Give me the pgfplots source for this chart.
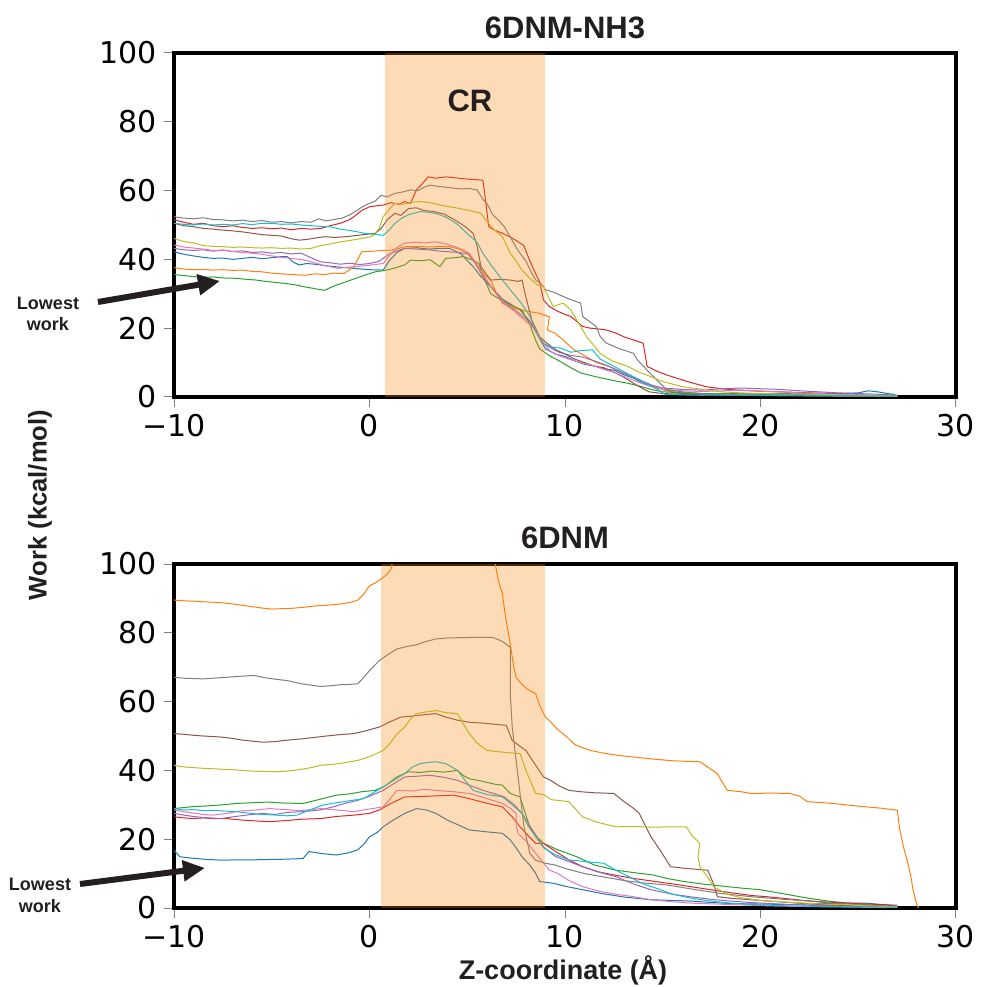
\documentclass[border=0pt]{standalone}
\usepackage{fontspec}
\setmainfont{DejaVu Sans}
\newfontfamily\lab{Liberation Sans}
\usepackage{pgfplots}
\pgfplotsset{compat=1.18}
\usetikzlibrary{arrows.meta}
\definecolor{tabblue}{HTML}{1F77B4}
\definecolor{taborange}{HTML}{FF7F0E}
\definecolor{tabgreen}{HTML}{2CA02C}
\definecolor{tabred}{HTML}{D62728}
\definecolor{tabpurple}{HTML}{9467BD}
\definecolor{tabbrown}{HTML}{8C564B}
\definecolor{tabpink}{HTML}{E377C2}
\definecolor{tabgray}{HTML}{7F7F7F}
\definecolor{tabolive}{HTML}{BCBD22}
\definecolor{tabcyan}{HTML}{17BECF}
\definecolor{spanc}{RGB}{248,135,15}
\definecolor{txt}{RGB}{35,31,32}
\pgfplotsset{myax/.style={
  scale only axis, width=391pt, height=172pt, anchor=south west,
  xmin=-10, xmax=30, ymin=0, ymax=100,
  xtick={-10,0,10,20,30}, xticklabels={−10,0,10,20,30},
  ytick={0,20,40,60,80,100}, yticklabels={0,20,40,60,80,100},
  axis line style={line width=2pt, black},
  tick style={gray, line width=0.5pt},
  tick align=outside, major tick length=5pt,
  tick pos=left,
  ticklabel style={font=\fontsize{15}{15}\selectfont},
  every axis plot/.append style={line width=0.5pt, no marks},
}}
\begin{document}
\begin{tikzpicture}[x=1pt,y=1pt]
\useasboundingbox (0,0) rectangle (490.5,493.5);
% ---------------- top panel
\begin{axis}[myax, at={(87pt,295pt)}]
\addplot[tabblue] coordinates {(-10,42.2) (-9.5,41.5) (-9,41.0) (-8.5,40.6) (-8,40.3) (-7.5,40.4) (-7,40.0) (-6.5,40.3) (-6,40.6) (-5.5,40.2) (-5,40.5) (-4.5,40.8) (-4.2,40.8) (-3.9,39.2) (-3.6,38.4) (-3.2,38.8) (-2.8,38.6) (-2.3,38.2) (-1.8,37.9) (-1.2,37.6) (-0.6,37.3) (0,37.0) (0.7,36.9) (1.0,39.5) (1.4,42.0) (1.8,43.2) (2.4,43.4) (3.0,43.0) (3.6,43.2) (4.1,43.2) (4.7,41.5) (5.3,37.9) (5.7,35.0) (6.2,32.0) (6.8,28.5) (7.7,25.3) (8.2,22.0) (8.7,17.0) (9.0,14.0) (9.5,12.5) (10.0,11.8) (10.5,10.5) (11.0,9.5) (11.5,9.0) (12.0,8.2) (12.5,7.8) (13.0,6.5) (13.5,5.5) (14.0,4.0) (14.5,3.0) (15.0,2.2) (15.5,1.4) (16.0,1.0) (17,0.8) (18,0.9) (19,1.0) (20,0.8) (21,1.0) (22,0.9) (23,1.1) (24,1.0) (25,1.2) (25.5,1.8) (26,1.5) (26.5,1.0) (26.9,0.7)};
\addplot[taborange] coordinates {(-10,37.6) (-9.5,37.2) (-9,37.0) (-8.5,37.1) (-8,36.9) (-7.5,37.0) (-7,36.8) (-6.5,36.9) (-6,36.5) (-5.5,36.4) (-5,36.0) (-4.5,35.8) (-4,35.6) (-3.3,35.4) (-2.8,35.8) (-2.3,35.6) (-1.8,36.0) (-1.3,35.9) (-0.8,37.9) (-0.4,42.2) (0.2,42.4) (0.6,42.6) (1.1,42.7) (1.5,43.2) (1.8,43.7) (2.4,43.8) (3.0,43.6) (3.6,43.7) (4.1,43.7) (4.6,43.0) (5.0,41.8) (5.5,38.5) (5.9,35.5) (6.2,34.0) (6.5,30.0) (6.8,27.2) (7.2,26.2) (7.7,25.3) (8.2,24.8) (8.7,24.3) (9.2,23.3) (9.1,19.5) (9.5,18.5) (9.9,16.6) (10.4,14.0) (11.0,12.0) (11.6,10.0) (12.2,9.0) (12.8,7.5) (13.4,6.0) (14.0,4.5) (14.6,3.0) (15.2,1.8) (16,1.2) (17,1.0) (18,0.8) (19,0.9) (20,1.0) (21,0.8) (22,0.7) (23,0.6) (24,0.5) (25,0.4) (26,0.3) (27,0.2)};
\addplot[tabgreen] coordinates {(-10,35.6) (-9.5,35.3) (-9,35.0) (-8.5,34.8) (-8,34.9) (-7.5,34.6) (-6.8,34.5) (-6.3,34.2) (-5.8,34.0) (-5.3,33.6) (-4.8,33.3) (-4.3,33.0) (-3.8,32.6) (-3.3,32.0) (-2.8,31.5) (-2.3,31.0) (-2.0,31.8) (-1.7,32.5) (-1.2,33.5) (-0.7,34.5) (-0.2,35.5) (0.3,36.4) (0.8,36.8) (1.3,37.5) (1.8,38.4) (2.1,39.8) (2.6,39.6) (3.1,39.9) (3.6,37.9) (3.9,40.3) (4.4,40.5) (4.8,40.8) (5.2,40.0) (5.6,38.8) (5.9,34.0) (6.2,30.0) (6.8,28.0) (7.3,26.5) (7.8,25.3) (8.2,21.0) (8.5,16.5) (8.7,14.0) (9.2,12.0) (9.7,10.5) (10.3,8.5) (10.8,7.0) (11.5,6.0) (12.3,5.0) (13.2,4.0) (13.8,3.2) (14.4,2.2) (15,1.5) (16,1.2) (17,1.0) (18,0.9) (19,0.8) (20,0.8) (21,0.7) (22,0.6) (23,0.5) (24,0.4) (25,0.4) (26,0.3) (27,0.2)};
\addplot[tabred] coordinates {(-10,51.5) (-9.5,50.8) (-9,50.2) (-8.5,50.5) (-8,49.8) (-7.5,49.5) (-7,49.8) (-6.5,49.3) (-6,49.0) (-5.5,49.2) (-5,48.9) (-4.5,49.1) (-4,48.6) (-3.5,49.0) (-3,48.8) (-2.5,49.0) (-2,49.8) (-1.5,50.5) (-1,51.6) (-0.8,52.4) (-0.4,54.2) (0,55.3) (0.4,55.6) (0.7,55.8) (1.1,56.5) (1.5,56.0) (1.8,56.8) (2.1,56.3) (2.4,60.2) (2.7,62.0) (3.0,64.0) (3.4,63.6) (3.9,64.0) (4.4,63.7) (4.9,63.4) (5.4,63.2) (5.8,63.0) (5.9,58.7) (6.1,49.5) (6.4,48.5) (6.8,47.6) (7.2,46.5) (7.5,45.5) (7.9,44.0) (8.1,41.0) (8.4,37.0) (8.7,33.5) (8.9,28.2) (9.2,26.3) (9.6,25.0) (10.0,24.0) (10.3,23.4) (10.6,22.0) (10.9,20.5) (11.3,20.0) (11.7,19.8) (12.1,19.5) (12.6,18.6) (13.0,17.5) (13.5,16.6) (14.0,15.6) (14.2,8.9) (14.7,7.5) (15.2,6.4) (15.7,5.5) (16.2,4.6) (16.7,3.8) (17.2,3.0) (18.0,2.4) (18.6,2.1) (19.5,1.8) (20.5,1.6) (21.5,1.4) (22.5,1.2) (23.5,1.0) (24.5,0.8) (25.5,0.5) (26.5,0.3) (27,0.2)};
\addplot[tabpurple] coordinates {(-10,43.2) (-9.5,42.8) (-9,42.6) (-8.5,42.8) (-8,42.4) (-7.5,42.7) (-7,42.3) (-6.5,42.5) (-6,42.0) (-5.5,42.2) (-5,41.8) (-4.5,42.0) (-4,41.6) (-3.5,41.8) (-3.0,40.5) (-2.5,39.3) (-2.0,39.0) (-1.5,38.6) (-1.0,38.9) (-0.5,38.5) (0,38.8) (0.5,39.5) (1.0,41.5) (1.4,42.5) (1.8,43.2) (2.4,43.0) (3.0,42.8) (3.6,42.4) (4.1,42.2) (4.6,42.0) (5.1,41.5) (5.5,38.0) (5.8,35.0) (6.3,31.5) (6.8,28.0) (7.5,25.0) (8.3,21.4) (8.8,16.0) (9.2,14.5) (9.7,13.0) (10.2,12.2) (10.9,11.6) (11.5,10.5) (12.0,9.5) (12.6,8.0) (13.2,6.5) (13.8,5.0) (14.4,3.5) (15,2.6) (16,2.2) (17,2.0) (18,2.4) (19,2.6) (20,2.4) (21,2.2) (22,1.8) (23,1.5) (24,1.2) (25,1.0) (26,0.8) (27,0.5)};
\addplot[tabbrown] coordinates {(-10,50.5) (-9.5,49.8) (-9,49.5) (-8.5,49.0) (-8,48.8) (-7.5,48.5) (-7,48.3) (-6.5,48.0) (-6,47.6) (-5.5,47.2) (-5,47.0) (-4.5,46.8) (-4,46.0) (-3.6,45.6) (-3.2,45.8) (-2.8,46.2) (-2.3,46.6) (-1.8,46.4) (-1.2,46.6) (-0.6,47.0) (0,47.4) (0.3,47.6) (0.6,49.0) (0.9,51.5) (1.3,53.4) (1.6,52.8) (2.0,54.8) (2.4,55.0) (2.8,54.2) (3.3,53.9) (3.8,53.2) (4.2,52.0) (4.5,51.0) (4.9,49.5) (5.3,47.6) (5.5,44.0) (5.7,37.9) (6.0,35.5) (6.2,34.0) (6.7,34.2) (7.2,34.0) (7.6,33.6) (7.8,34.0) (8.0,29.0) (8.3,22.4) (8.7,17.5) (9.0,16.0) (9.5,13.8) (10,12.5) (10.5,11.0) (11,10.0) (11.5,9.0) (12,8.5) (12.5,7.2) (13,5.8) (13.5,4.0) (14,2.4) (14.3,1.5) (15,1.0) (16,0.8) (17,0.6) (18,0.5) (19,0.5) (20,0.6) (21,0.5) (22,0.4) (24,0.3) (26,0.2) (26.8,0.1)};
\addplot[tabpink] coordinates {(-10,44.2) (-9.5,43.6) (-9,43.3) (-8.5,43.0) (-8,42.6) (-7.5,42.7) (-7,42.3) (-6.5,42.0) (-6,41.8) (-5.5,41.5) (-5,41.0) (-4.5,40.6) (-4,40.3) (-3.3,39.8) (-2.8,39.0) (-2.3,38.2) (-1.6,37.4) (-1.0,37.8) (-0.5,38.0) (0,38.3) (0.4,38.6) (0.7,38.8) (1.0,41.0) (1.4,43.5) (1.8,44.7) (2.3,45.0) (2.8,44.8) (3.4,45.1) (3.9,44.5) (4.5,43.5) (5.1,41.8) (5.5,38.5) (6.0,34.0) (6.4,30.5) (6.9,27.0) (7.4,25.0) (7.9,22.5) (8.4,20.0) (8.8,16.5) (9.2,13.5) (9.7,12.0) (10.2,11.0) (10.8,10.0) (11.4,9.2) (12.0,8.0) (12.6,7.0) (13.2,5.5) (13.8,4.2) (14.4,3.0) (15,2.3) (16,1.8) (17,1.6) (18,1.8) (19,2.0) (20,1.7) (21,1.5) (22,1.2) (23,1.0) (24,0.8) (25,0.6) (26,0.4) (27,0.2)};
\addplot[tabgray] coordinates {(-10,52.4) (-9.5,52.0) (-9,51.8) (-8.5,52.1) (-8,51.6) (-7.5,51.5) (-7,51.2) (-6.5,51.4) (-6,51.0) (-5.5,51.3) (-5,50.8) (-4.5,51.0) (-4,50.6) (-3.5,51.0) (-3,50.8) (-2.6,51.8) (-2.2,51.2) (-1.8,51.6) (-1.4,52.0) (-1,53.0) (-0.7,54.0) (-0.4,55.2) (0,56.3) (0.3,57.0) (0.6,58.6) (0.9,58.2) (1.3,59.2) (1.7,59.6) (2.1,60.2) (2.5,60.0) (2.8,61.0) (3.1,61.6) (3.5,61.2) (3.9,61.0) (4.3,60.7) (4.7,60.5) (5.1,60.6) (5.5,60.2) (5.8,57.5) (6.0,56.3) (6.3,53.0) (6.6,51.4) (6.9,49.5) (7.2,46.5) (7.5,43.5) (7.7,41.8) (8.0,39.5) (8.3,36.0) (8.5,34.0) (8.8,32.8) (9.0,31.2) (9.4,30.5) (9.8,29.5) (10.2,28.5) (10.8,27.3) (10.9,23.4) (11.6,20.5) (11.8,17.6) (12.1,15.7) (12.8,14.0) (13.5,12.7) (13.7,10.8) (14.35,6.9) (15.2,2.1) (16.0,1.5) (17,1.0) (18,0.6) (20,0.4) (22,0.3) (24,0.2) (26,0.2) (27,0.1)};
\addplot[tabolive] coordinates {(-10,46.1) (-9.5,45.2) (-9,44.8) (-8.5,44.0) (-8,43.8) (-7.5,43.7) (-7,43.5) (-6.5,43.6) (-6,43.4) (-5.5,43.3) (-5,43.4) (-4.5,43.2) (-4,43.3) (-3.5,43.0) (-3,43.2) (-2.5,44.0) (-2,44.5) (-1.5,45.1) (-1,45.5) (-0.5,46.0) (0,46.5) (0.2,47.0) (0.5,49.0) (0.7,52.4) (1.0,54.5) (1.3,56.3) (1.7,56.0) (2.1,56.6) (2.6,56.8) (3.1,56.5) (3.6,55.8) (4.1,55.3) (4.6,54.8) (5.1,54.2) (5.7,53.4) (6.0,51.0) (6.4,48.5) (6.8,46.6) (7.2,41.8) (7.5,39.5) (7.8,36.9) (8.2,34.5) (8.6,32.5) (8.9,32.1) (9.2,28.5) (9.4,26.3) (9.9,27.3) (10.3,25.3) (10.8,20.5) (11.1,17.6) (11.8,12.7) (12.4,10.5) (13.2,8.9) (13.8,7.2) (14.35,6.0) (15.0,4.5) (16.0,3.0) (17.2,2.1) (18,1.5) (19,1.2) (20,1.0) (21,0.8) (22,0.9) (23,0.7) (24,0.6) (25,0.5) (26,0.4) (27,0.3)};
\addplot[tabcyan] coordinates {(-10,50.5) (-9.5,50.2) (-9,50.0) (-8.5,50.3) (-8,50.0) (-7.5,50.2) (-7,50.0) (-6.5,50.4) (-6,50.1) (-5.5,50.5) (-5,50.5) (-4.5,50.2) (-4,50.3) (-3.5,50.0) (-3,49.8) (-2.5,49.6) (-2,49.5) (-1.5,48.8) (-1,48.4) (-0.6,48.0) (-0.2,47.5) (0.3,47.3) (0.7,47.0) (1.0,48.5) (1.3,50.5) (1.6,51.8) (2.0,53.0) (2.6,53.9) (3.0,53.7) (3.5,53.2) (4.0,52.0) (4.5,50.2) (5.0,47.5) (5.5,45.0) (5.8,41.8) (6.2,38.5) (6.8,34.0) (7.3,30.5) (7.8,27.0) (8.2,23.5) (8.5,19.4) (8.9,15.6) (9.3,14.5) (9.8,14.2) (10.3,13.0) (10.8,13.5) (11.4,13.7) (11.8,11.0) (12.3,9.5) (12.8,8.0) (13.3,6.5) (13.8,5.0) (14.3,3.5) (14.8,2.0) (15.1,0.8) (16,0.6) (17,0.5) (18,0.6) (19,0.7) (20,0.5) (22,0.6) (24,0.4) (26,0.3) (27,0.2)};
\fill[spanc, opacity=0.3] (axis cs:0.8,0) rectangle (axis cs:9,100);
\node[font=\lab\bfseries\fontsize{15.5}{15.5}\selectfont, text=txt] at (axis cs:5.14,86) {CR};
\end{axis}
% ---------------- bottom panel
\begin{axis}[myax, at={(87pt,39.5pt)}]
\addplot[tabblue] coordinates {(-10,16.8) (-9.7,14.9) (-9.3,14.6) (-8.5,14.2) (-7.6,13.9) (-6.8,14.0) (-6.0,14.0) (-5.1,14.1) (-4.2,14.2) (-3.4,14.4) (-3.1,16.4) (-2.4,15.8) (-1.7,15.4) (-1.1,16.0) (-0.6,16.9) (-0.3,18.5) (0,20.7) (0.4,22.0) (0.7,23.6) (1.2,25.5) (1.8,27.5) (2.4,28.9) (2.9,28.5) (3.4,27.5) (4.0,25.5) (4.6,24.0) (5.1,22.7) (5.9,22.2) (6.8,21.7) (7.2,19.8) (7.5,17.5) (7.8,14.9) (8.2,12.5) (8.5,10.1) (8.7,7.7) (9.4,7.2) (10.1,6.2) (11.0,5.2) (11.8,4.3) (13.0,3.2) (14.4,2.4) (15.5,2.2) (16.5,2.0) (17.5,1.6) (18.5,1.3) (19.5,1.2) (20.5,1.1) (21.5,1.0) (22.5,1.2) (23.5,1.3) (24.5,1.4) (25.4,1.4) (26.2,1.0) (27,0.5)};
\addplot[taborange] coordinates {(-10,89.5) (-9.5,89.3) (-9,89.2) (-8.5,89.0) (-8,88.9) (-7.5,88.7) (-7,88.4) (-6.5,88.0) (-6,87.6) (-5.5,87.2) (-5,86.9) (-4.5,87.0) (-4,87.1) (-3.4,87.4) (-2.8,87.8) (-2.2,88.0) (-1.6,88.3) (-1.0,88.8) (-0.6,89.5) (-0.3,91.2) (0,93.7) (0.3,94.5) (0.7,96.1) (0.9,97.0) (1.1,98.5) (1.2,100.9) (1.5,104) (3,110) (5,110) (6.3,104) (6.4,100.9) (6.6,95.0) (6.8,91.2) (6.95,85.0) (7.1,80.0) (7.2,76.8) (7.35,71.0) (7.5,67.0) (7.8,65.0) (8.1,63.5) (8.5,62.3) (8.7,59.0) (9.0,55.5) (9.2,54.5) (9.6,52.0) (10.1,49.7) (10.5,47.5) (10.9,46.6) (11.3,45.8) (12.0,45.0) (12.8,44.3) (13.5,43.9) (14.5,43.3) (15.5,42.8) (16.9,42.5) (17.3,41.0) (17.8,39.0) (18.0,37.0) (18.3,34.2) (19.0,33.8) (19.5,33.3) (20.5,33.4) (21.5,33.3) (22.0,32.5) (22.4,30.9) (23.5,30.5) (24.5,29.9) (25.4,29.4) (26.2,29.0) (27.0,28.4) (27.1,23.6) (27.3,18.0) (27.5,13.9) (27.7,9.0) (27.8,5.3) (28.0,0.9) (28.1,0)};
\addplot[tabgreen] coordinates {(-10,28.9) (-9.5,29.2) (-9,29.5) (-8.5,29.6) (-7.5,30.0) (-6.8,30.4) (-6,30.6) (-5.2,30.8) (-4.4,30.5) (-3.4,30.4) (-2.6,31.5) (-1.7,32.8) (-1.0,33.2) (-0.4,33.8) (0.3,34.2) (0.8,35.5) (1.4,38.1) (2.0,39.6) (2.6,39.4) (3.2,39.8) (3.8,39.5) (4.5,40.0) (4.8,38.5) (5.1,37.6) (5.8,36.8) (6.4,36.0) (6.8,35.7) (7.2,33.3) (7.7,32.3) (8.0,27.0) (8.2,23.6) (8.5,21.0) (8.9,18.8) (9.6,17.0) (10.6,14.9) (11.5,12.5) (12.6,11.0) (13.5,10.3) (14.5,9.6) (15.3,8.5) (16.1,7.7) (17.0,7.0) (18.0,6.4) (19.0,5.8) (20.0,5.3) (20.8,4.5) (21.5,3.8) (22.5,2.8) (23.5,2.0) (24.5,1.4) (25.5,0.9) (26.5,0.5) (27,0.3)};
\addplot[tabred] coordinates {(-10,26.5) (-9.5,26.2) (-9,26.0) (-8.5,26.2) (-8,26.0) (-7.3,26.0) (-6.6,25.6) (-5.8,25.3) (-5.1,25.1) (-4.3,25.4) (-3.5,25.8) (-2.5,26.0) (-1.7,26.6) (-0.8,27.0) (0,27.5) (0.5,28.5) (1.1,30.4) (1.8,32.3) (2.6,32.4) (3.4,32.6) (4.3,32.8) (5.1,31.8) (5.9,30.6) (6.8,29.4) (7.3,26.5) (7.7,23.6) (8.2,20.5) (8.5,18.8) (8.9,18.8) (9.5,16.5) (10.2,14.0) (10.9,12.0) (11.7,10.5) (12.6,9.5) (13.5,8.6) (14.5,7.8) (15.5,7.0) (16.9,5.8) (17.8,5.0) (18.8,4.2) (19.6,3.6) (20.3,3.3) (21.2,2.8) (22.2,2.2) (23.2,1.8) (24.2,1.5) (25.2,1.2) (26.2,1.0) (27,0.8)};
\addplot[tabpurple] coordinates {(-10,27.5) (-9.5,27.0) (-9,26.6) (-8.5,26.3) (-7.6,26.0) (-7,26.5) (-6.3,27.0) (-5.5,27.5) (-4.8,27.2) (-4.2,27.8) (-3.4,28.0) (-2.5,28.5) (-1.8,29.5) (-1.2,30.5) (-0.6,31.3) (0,32.5) (0.7,34.2) (1.2,36.0) (1.8,38.1) (2.4,38.3) (3.1,38.6) (3.8,38.0) (4.5,37.1) (5.2,35.5) (5.8,34.2) (6.4,33.2) (6.9,32.3) (7.4,30.0) (7.8,27.5) (8.3,23.0) (8.9,17.8) (9.5,15.0) (10.2,13.5) (10.9,12.0) (11.7,10.5) (12.6,9.1) (13.5,7.0) (14.4,5.3) (15.5,4.0) (16.5,3.2) (17.5,2.5) (18.5,2.0) (19.5,1.6) (20.5,1.3) (21.5,1.0) (22.5,0.8) (23.5,0.7) (24.5,0.5) (25.5,0.4) (27,0.2)};
\addplot[tabbrown] coordinates {(-10,50.7) (-9.5,50.5) (-9,50.2) (-8.5,50.0) (-7.6,49.7) (-7,49.3) (-6.5,48.8) (-6,48.5) (-5.4,48.2) (-4.8,48.4) (-4.2,48.8) (-3.4,49.2) (-2.8,49.6) (-2.2,50.0) (-1.5,50.4) (-0.8,50.7) (-0.2,51.5) (0.5,52.6) (1.0,54.0) (1.6,55.5) (2.2,55.8) (2.8,56.2) (3.4,56.5) (3.9,55.5) (4.5,54.6) (5.1,54.0) (5.7,53.8) (6.4,53.4) (7.0,53.1) (7.3,48.7) (7.7,47.0) (8.0,45.8) (8.5,41.5) (8.9,38.1) (9.3,37.0) (9.7,35.5) (10.2,34.2) (10.8,33.8) (11.5,33.5) (12.5,33.3) (13.0,31.0) (13.5,29.0) (13.8,27.5) (14.1,24.0) (14.4,20.7) (14.9,16.5) (15.4,12.0) (16.2,11.5) (17.3,11.0) (17.6,7.0) (17.8,3.3) (18.5,2.8) (19.5,2.4) (20.5,2.0) (21.5,1.6) (22.5,1.2) (23.5,0.9) (24.5,0.7) (25.5,0.5) (26.5,0.3) (27,0.2)};
\addplot[tabpink] coordinates {(-10,28.5) (-9.5,28.0) (-9,27.6) (-8.5,27.2) (-8,27.0) (-7.3,27.5) (-6.6,28.2) (-5.8,28.5) (-5.1,28.9) (-4.3,28.6) (-3.5,28.3) (-2.5,28.9) (-1.5,28.4) (-0.8,28.0) (-0.2,28.6) (0.7,29.4) (1.1,32.0) (1.4,34.2) (2.2,34.0) (2.8,34.5) (3.4,34.2) (4.3,33.8) (5.1,33.3) (5.9,32.0) (6.8,30.4) (7.2,29.0) (7.5,27.5) (7.5,24.0) (7.6,21.7) (8.0,19.5) (8.5,15.9) (9.2,11.0) (9.6,10.1) (10.2,8.0) (10.9,6.2) (11.8,4.8) (12.6,4.0) (13.5,3.3) (14.4,2.4) (15.5,1.8) (16.5,1.4) (17.5,1.2) (18.5,1.0) (19.5,0.8) (20.5,0.6) (21.5,0.5) (22.5,0.4) (24,0.3) (25.5,0.2) (26.5,0.1)};
\addplot[tabgray] coordinates {(-10,67.1) (-9.5,66.8) (-9,66.7) (-8.5,66.6) (-8,66.8) (-7.5,67.0) (-7,67.2) (-6.5,67.4) (-5.9,67.6) (-5.4,67.0) (-4.8,66.5) (-4.2,66.1) (-3.5,65.2) (-3.0,64.8) (-2.5,64.4) (-2.0,64.6) (-1.5,64.9) (-1.0,65.0) (-0.6,65.2) (-0.3,67.0) (0,69.0) (0.5,71.9) (0.9,73.5) (1.4,75.3) (1.9,76.0) (2.4,76.5) (2.9,77.5) (3.4,78.2) (4.0,78.5) (4.7,78.6) (5.5,78.7) (6.3,78.7) (6.8,77.5) (7.2,75.8) (7.2,62.3) (7.3,52.6) (7.5,42.9) (7.7,33.3) (7.9,23.6) (8.2,15.9) (8.5,13.9) (9.0,13.0) (9.5,12.5) (10.0,11.5) (11.0,10.0) (12.0,9.0) (13.0,8.0) (14.0,7.3) (15.2,6.7) (16.5,5.5) (18.0,4.2) (19.5,3.3) (21.0,2.6) (22.5,2.0) (23.7,1.4) (25,1.0) (26,0.7) (27,0.4)};
\addplot[tabolive] coordinates {(-10,41.5) (-9.5,41.0) (-9,40.8) (-8.5,40.6) (-8,40.5) (-7.5,40.3) (-7,40.2) (-6.5,40.0) (-6,39.8) (-5.4,39.7) (-4.8,39.6) (-4.2,39.8) (-3.6,40.2) (-3.0,40.8) (-2.5,41.5) (-1.8,41.8) (-1.2,42.3) (-0.6,42.9) (0,44.0) (0.4,45.0) (0.7,45.8) (1.0,47.5) (1.4,50.5) (1.8,52.6) (2.1,55.0) (2.4,56.5) (2.9,57.0) (3.4,57.4) (3.9,56.8) (4.5,56.5) (4.8,53.5) (5.1,50.7) (5.5,48.0) (6.0,45.8) (6.5,45.5) (7.0,45.2) (7.7,44.9) (8.0,40.0) (8.5,33.3) (8.9,33.0) (9.3,31.5) (10.2,30.9) (10.9,26.5) (11.6,25.0) (12.6,23.6) (13.5,23.7) (14.5,23.5) (15.5,23.6) (16.2,23.6) (16.5,21.0) (16.9,18.8) (16.8,15.0) (16.9,12.0) (17.3,9.0) (17.6,6.2) (18.3,4.0) (19,3.0) (20,2.2) (21,1.8) (22,1.5) (23,1.2) (24,1.0) (25,0.8) (26,0.5) (27,0.3)};
\addplot[tabcyan] coordinates {(-10,28.9) (-9.5,28.5) (-9,28.6) (-8.5,28.3) (-8,28.4) (-7.5,28.2) (-6.8,28.0) (-6.2,27.6) (-5.5,27.2) (-4.8,27.0) (-4.2,26.8) (-3.7,27.0) (-3.2,28.2) (-2.4,29.9) (-1.8,30.5) (-1.0,31.2) (-0.3,31.8) (0.2,33.5) (0.7,35.2) (1.2,37.0) (1.8,39.1) (2.2,41.0) (2.6,42.0) (3.0,42.3) (3.4,42.5) (3.9,42.0) (4.5,40.0) (4.9,37.0) (5.3,34.2) (6.0,33.0) (6.8,32.3) (7.3,30.0) (7.8,27.5) (8.1,24.0) (8.5,20.7) (8.9,17.5) (9.5,15.5) (10.2,14.0) (11.0,13.5) (12.0,13.0) (12.6,11.0) (13.3,9.0) (14.0,7.0) (14.8,5.5) (15.5,4.0) (16.5,2.8) (17.5,2.0) (18.5,1.4) (19.5,1.0) (20.5,0.8) (21.5,0.6) (22.5,0.5) (24,0.4) (25.5,0.3) (27,0.2)};
\fill[spanc, opacity=0.3] (axis cs:0.6,0) rectangle (axis cs:9,100);
\end{axis}
% ---------------- texts and arrows
\node[font=\lab\bfseries\fontsize{15.5}{15.5}\selectfont, text=txt] at (282.5,479.5) {6DNM-NH3};
\node[font=\lab\bfseries\fontsize{15.5}{15.5}\selectfont, text=txt] at (282.5,224.5) {6DNM};
\node[font=\lab\bfseries\fontsize{12.8}{12.8}\selectfont, text=txt, rotate=90] at (20,241) {Work (kcal/mol)};
\node[font=\lab\bfseries\fontsize{13.5}{13.5}\selectfont, text=txt] at (281.5,8.5) {Z-coordinate (Å)};
\node[font=\lab\bfseries\fontsize{9}{10.5}\selectfont, text=txt, align=center] at (24,336.5) {Lowest\\work};
\node[font=\lab\bfseries\fontsize{9}{11}\selectfont, text=txt, align=center] at (20,46) {Lowest\\work};
\draw[txt, line width=3pt, -{Triangle[length=11pt,width=10pt]}] (49,342.5) -- (110,353);
\draw[txt, line width=3pt, -{Triangle[length=11pt,width=10pt]}] (40,51.5) -- (102.5,59.5);
\end{tikzpicture}
\end{document}
